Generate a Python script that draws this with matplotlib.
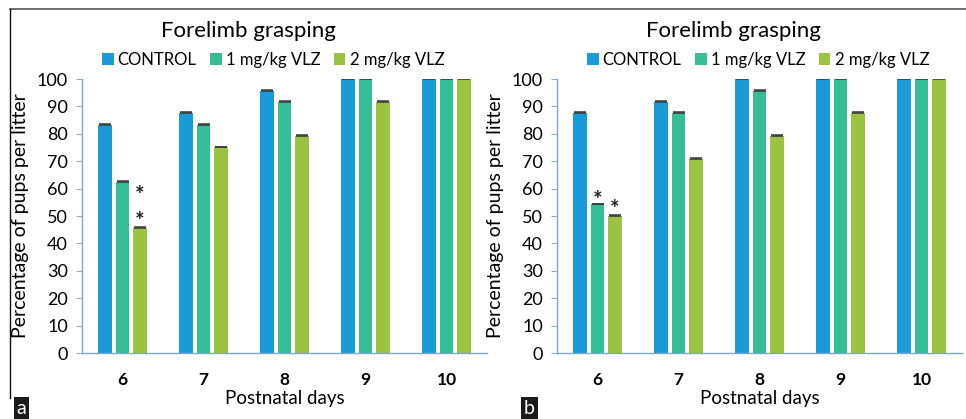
import matplotlib.pyplot as plt
import numpy as np

plt.rcParams['font.family'] = ['Lato', 'DejaVu Sans']

days = ['6', '7', '8', '9', '10']
groups = ['CONTROL', '1 mg/kg VLZ', '2 mg/kg VLZ']
colors = ['#1a9ad6', '#35be96', '#9cc242']

# panel a
a_control = [83.3, 87.5, 95.8, 100, 100]
a_1mg = [62.5, 83.3, 91.7, 100, 100]
a_2mg = [45.8, 75.0, 79.2, 91.7, 100]
# panel b
b_control = [87.5, 91.7, 100, 100, 100]
b_1mg = [54.2, 87.5, 95.8, 100, 100]
b_2mg = [50.0, 70.8, 79.2, 87.5, 100]

# asterisks: (group index, day index, y)
a_stars = [(2, 0, 57.5), (2, 0, 48.0)]
b_stars = [(1, 0, 55.5), (2, 0, 52.5)]

W, H = 966, 419


def px(x0, y0, w, h):
    return [x0 / W, 1 - (y0 + h) / H, w / W, h / H]


def panel(x0, series, stars, title_x, letter, letter_x):
    ax = fig.add_axes(px(x0, 79, 405, 274))
    x = np.arange(len(days))
    pitch, bw = 0.2125, 0.172
    for i, (vals, c) in enumerate(zip(series, colors)):
        xs = x + (i - 1) * pitch
        ax.bar(xs, vals, bw, color=c, label=groups[i], zorder=2)
        err = [np.zeros(len(vals)), np.full(len(vals), 0.3)]
        ax.errorbar(xs, vals, yerr=err, fmt='none', ecolor='#3a3a3a',
                    elinewidth=0.6, capsize=4.4, capthick=1.1, zorder=3)
    for g, d, y in stars:
        ax.text(d + (g - 1) * pitch, y, '*', ha='center', va='center',
                fontsize=16, fontweight='bold', color='#222222')
    ax.set_xlim(-0.5, 4.5)
    ax.set_ylim(0, 100)
    ax.set_yticks(range(0, 101, 10))
    ax.set_xticks(x)
    ax.set_xticklabels(days, fontsize=12.5, fontweight='bold')
    ax.tick_params(axis='y', labelsize=13, length=4, color='#8aaed0', pad=6)
    ax.tick_params(axis='x', length=0, pad=14)
    for s in ['top', 'right']:
        ax.spines[s].set_visible(False)
    for s in ['left', 'bottom']:
        ax.spines[s].set_color('#7fa6cc')
        ax.spines[s].set_linewidth(1.0)
    ax.set_ylabel('Percentage of pups per litter', fontsize=14, labelpad=6)
    ax.set_xlabel('Postnatal days', fontsize=13.5, labelpad=1)
    fig.text(title_x / W, 1 - 31 / H, 'Forelimb grasping', ha='center',
             va='center', fontsize=16)
    ax.legend(loc='center', bbox_to_anchor=((title_x + 25 - x0) / 405, (353 - 60) / 274),
              ncol=3, frameon=False, fontsize=12, handlelength=0.7,
              handleheight=0.7, handletextpad=0.25, columnspacing=0.8,
              borderaxespad=0)
    fig.text((letter_x + 11.5) / W, 1 - 408.5 / H, letter, ha='center', va='center',
             color='white', fontsize=14,
             bbox=dict(boxstyle='square,pad=0.15', fc='#1a1a1a', ec='none'))
    return ax


fig = plt.figure(figsize=(W / 100, H / 100), dpi=100)

# frame lines
fig.add_artist(plt.Line2D([10 / W, 1], [1 - 9 / H, 1 - 9 / H], color='#555555', lw=1.2))
fig.add_artist(plt.Line2D([10 / W, 10 / W], [1 - 9 / H, 1 - 398 / H], color='#111111', lw=1.0))

panel(82, [a_control, a_1mg, a_2mg], a_stars, 248, 'a', 10)
panel(557, [b_control, b_1mg, b_2mg], b_stars, 733, 'b', 518)

fig.savefig('out.png', dpi=100)
